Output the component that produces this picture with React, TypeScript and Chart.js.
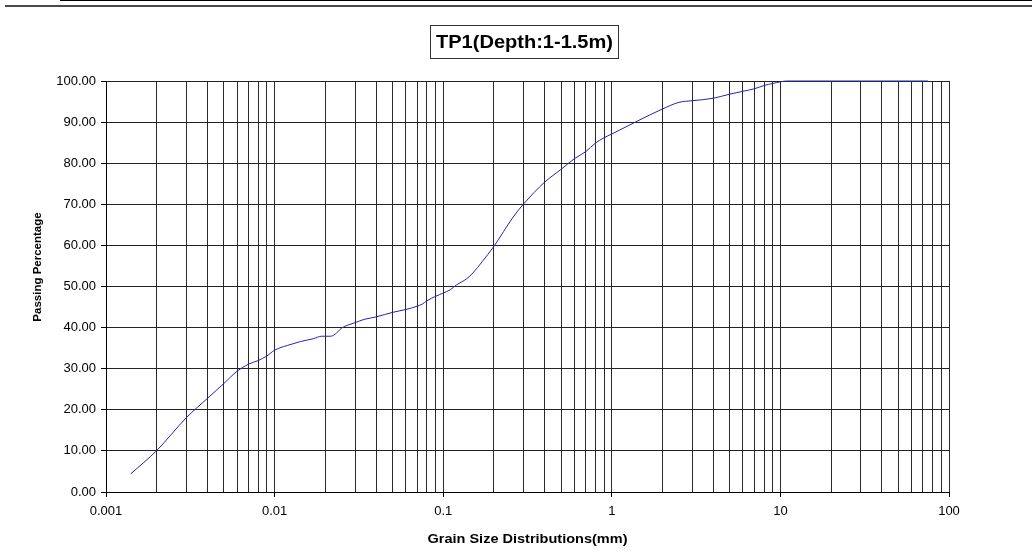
import { useEffect, useRef } from 'react';
import { Chart, registerables } from 'chart.js';

Chart.register(...registerables);

// Sieve + hydrometer results for the sample
const grainSizesMm = [
  0.0014, 0.002, 0.003, 0.004, 0.005, 0.006, 0.007, 0.008, 0.009, 0.01,
  0.0127, 0.0142, 0.017, 0.019, 0.0215, 0.0255, 0.03, 0.034, 0.04, 0.05,
  0.06, 0.07, 0.075, 0.08, 0.09, 0.1, 0.11, 0.12, 0.138, 0.15,
  0.17, 0.2, 0.26, 0.3, 0.4, 0.5, 0.6, 0.7, 0.8, 0.9,
  1.0, 1.41, 2.0, 2.5, 3.0, 4.0, 5.0, 6.0, 7.0, 8.0,
  9.0, 11, 75,
];
const passingPercent = [
  4.4, 10.1, 18.1, 22.8, 26.4, 29.4, 31.1, 32.0, 33.1, 34.5,
  36.0, 36.6, 37.3, 37.9, 37.9, 40.1, 41.2, 42.0, 42.6, 43.7,
  44.4, 45.2, 45.7, 46.5, 47.6, 48.4, 49.2, 50.4, 51.9, 53.3,
  56.0, 59.8, 66.9, 70.1, 75.4, 78.5, 81.1, 82.8, 84.9, 86.2,
  87.1, 90.2, 93.2, 94.8, 95.2, 95.8, 96.8, 97.5, 98.1, 98.9,
  99.4, 100, 100,
];

const xDecades = [0.001, 0.01, 0.1, 1, 10, 100];
const xDecadeLabels = ['0.001', '0.01', '0.1', '1', '10', '100'];
const yMin = 0;
const yMax = 100;
const yStep = 10;

const chartTitle = 'TP1(Depth:1-1.5m)';
const xAxisTitle = 'Grain Size Distributions(mm)';
const yAxisTitle = 'Passing Percentage';

const FONT = 'Arial, "Liberation Sans", sans-serif';

// 1..9 grid lines within every decade, labelled only at the powers of ten
function buildLogTicks() {
  const ticks: { value: number; major: boolean; label: string }[] = [];
  for (let i = 0; i < xDecades.length - 1; i++) {
    for (let k = 1; k <= 9; k++) {
      ticks.push({
        value: parseFloat((xDecades[i] * k).toPrecision(6)),
        major: k === 1,
        label: k === 1 ? xDecadeLabels[i] : '',
      });
    }
  }
  ticks.push({ value: xDecades[xDecades.length - 1], major: true, label: xDecadeLabels[xDecadeLabels.length - 1] });
  return ticks;
}

// draws text centred at (x, y), stretched horizontally to the given width
function fillStretched(ctx: CanvasRenderingContext2D, text: string, x: number, y: number, width: number) {
  const natural = ctx.measureText(text).width;
  ctx.save();
  ctx.translate(x, y);
  ctx.scale(width / natural, 1);
  ctx.fillText(text, 0, 0);
  ctx.restore();
}

const decorations = {
  id: 'decorations',
  afterDraw(chart: any) {
    const { ctx, chartArea } = chart;
    ctx.save();

    // page rules along the top edge
    ctx.fillStyle = '#000';
    ctx.fillRect(60, 0, 972, 1);
    ctx.fillStyle = '#4a4a4a';
    ctx.fillRect(5, 5, 1027, 2);

    // boxed chart title
    const boxL = 430, boxR = 619, boxT = 25, boxB = 59;
    ctx.fillStyle = '#fff';
    ctx.fillRect(boxL, boxT, boxR - boxL, boxB - boxT);
    ctx.strokeStyle = '#333';
    ctx.lineWidth = 1;
    ctx.strokeRect(boxL + 0.5, boxT + 0.5, boxR - boxL - 1, boxB - boxT - 1);
    ctx.fillStyle = '#000';
    ctx.textAlign = 'center';
    ctx.textBaseline = 'middle';
    ctx.font = `bold 18px ${FONT}`;
    fillStretched(ctx, chartTitle, (boxL + boxR) / 2, (boxT + boxB) / 2 + 1, 177);

    // axis titles
    ctx.font = `bold 13px ${FONT}`;
    fillStretched(ctx, xAxisTitle, (chartArea.left + chartArea.right) / 2, 539, 200);
    ctx.font = `bold 11.5px ${FONT}`;
    ctx.translate(38, 267);
    ctx.rotate(-Math.PI / 2);
    ctx.fillText(yAxisTitle, 0, 0);

    ctx.restore();
  },
};

export default function App() {
  const canvasRef = useRef<HTMLCanvasElement | null>(null);

  useEffect(() => {
    const canvas = canvasRef.current;
    if (!canvas) return;
    const logTicks = buildLogTicks();

    const chart = new Chart(canvas, {
      type: 'line',
      data: {
        datasets: [
          {
            data: grainSizesMm.map((x, i) => ({ x, y: passingPercent[i] })),
            borderColor: '#2424b0',
            borderWidth: 1,
            pointRadius: 0,
            fill: false,
            clip: 3,
            cubicInterpolationMode: 'monotone',
          },
        ],
      },
      options: {
        responsive: false,
        animation: false,
        layout: { padding: { top: 81, right: 83, left: 0, bottom: 0 } },
        plugins: {
          legend: { display: false },
          tooltip: { enabled: false },
          title: { display: false },
        },
        scales: {
          x: {
            type: 'logarithmic',
            min: xDecades[0],
            max: xDecades[xDecades.length - 1],
            afterBuildTicks: (scale: any) => {
              scale.ticks = logTicks.map((t) => ({ value: t.value, major: t.major }));
            },
            afterFit: (scale: any) => {
              scale.height = 68;
            },
            ticks: {
              autoSkip: false,
              maxRotation: 0,
              minRotation: 0,
              padding: 7,
              color: '#000',
              font: { family: FONT, size: 13 },
              callback: (_v: any, index: number) => logTicks[index] ? logTicks[index].label : '',
            },
            grid: {
              color: '#2a2a2a',
              lineWidth: 1,
              tickLength: 5,
              tickColor: (ctx: any) => (ctx.tick && ctx.tick.major ? '#000' : 'rgba(0,0,0,0)'),
            },
            border: { color: '#000', width: 1 },
          },
          y: {
            type: 'linear',
            min: yMin,
            max: yMax,
            afterFit: (scale: any) => {
              scale.width = 106;
            },
            ticks: {
              stepSize: yStep,
              padding: 5,
              color: '#000',
              font: { family: FONT, size: 13 },
              callback: (v: any) => Number(v).toFixed(2),
            },
            grid: {
              color: '#222',
              lineWidth: 1,
              tickLength: 5,
              tickColor: '#000',
            },
            border: { color: '#000', width: 1 },
          },
        },
      },
      plugins: [decorations],
    });

    return () => chart.destroy();
  }, []);

  return (
    <div style={{ position: 'absolute', left: 0, top: 0, width: 1032, height: 560, background: '#fff' }}>
      <canvas ref={canvasRef} width={1032} height={560} />
    </div>
  );
}
